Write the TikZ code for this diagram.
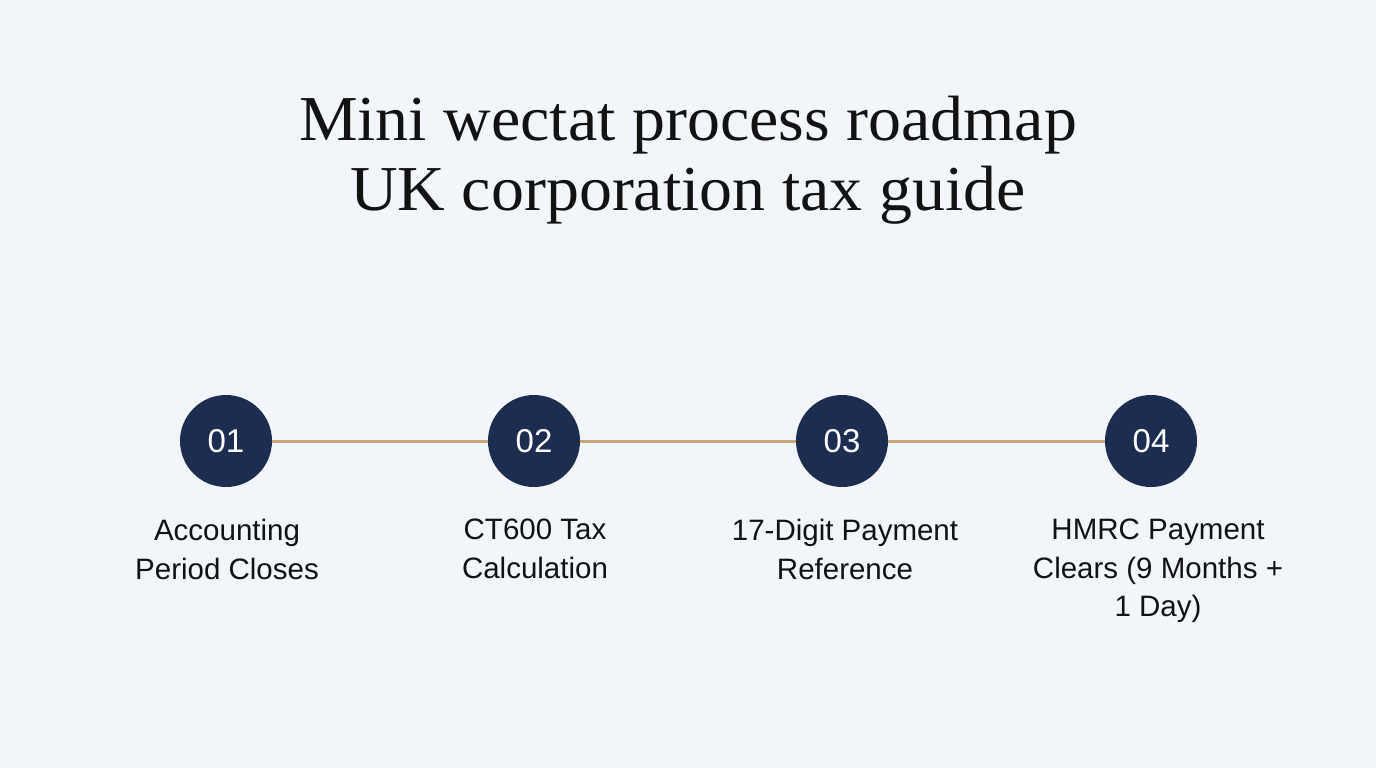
\documentclass[tikz,border=0pt]{standalone}
\usepackage{fontspec}
\setmainfont{Liberation Serif}
\setsansfont{Liberation Sans}
\definecolor{bgc}{HTML}{F2F5FA}
\definecolor{navy}{HTML}{1C2D4F}
\definecolor{tan}{HTML}{C6A97A}
\definecolor{ink}{HTML}{121212}
\tikzset{
  titleline/.style={font=\fontsize{64}{70}\selectfont, text=ink, inner sep=0pt, anchor=base, xscale=1.03},
  stepcircle/.style={circle, fill=navy, minimum size=92pt, inner sep=0pt, text=white, font=\sffamily\fontsize{33}{33}\selectfont},
  steplabel/.style={align=center, text=ink, font=\sffamily\fontsize{29.5}{38.5}\selectfont, anchor=north, inner sep=0pt},
  link/.style={draw=tan, line width=3pt}
}
\begin{document}
\begin{tikzpicture}[x=1pt,y=-1pt]
\fill[bgc] (0,0) rectangle (1376,768);
\useasboundingbox (0,0) rectangle (1376,768);
\node[titleline] (title1) at (688,140) {Mini wectat process roadmap};
\node[titleline] (title2) at (688,210) {UK corporation tax guide};
\node[stepcircle] (c1) at (226,441) {01};
\node[stepcircle] (c2) at (534,441) {02};
\node[stepcircle] (c3) at (842,441) {03};
\node[stepcircle] (c4) at (1151,441) {04};
\draw[link] (c1) -- (c2);
\draw[link] (c2) -- (c3);
\draw[link] (c3) -- (c4);
\node[steplabel] (l1) at (227,519) {Accounting\\Period Closes};
\node[steplabel] (l2) at (535,519) {CT600 Tax\\Calculation};
\node[steplabel] (l3) at (845,519) {17-Digit Payment\\Reference};
\node[steplabel] (l4) at (1158,519) {HMRC Payment\\Clears (9 Months +\\1 Day)};
\end{tikzpicture}
\end{document}
